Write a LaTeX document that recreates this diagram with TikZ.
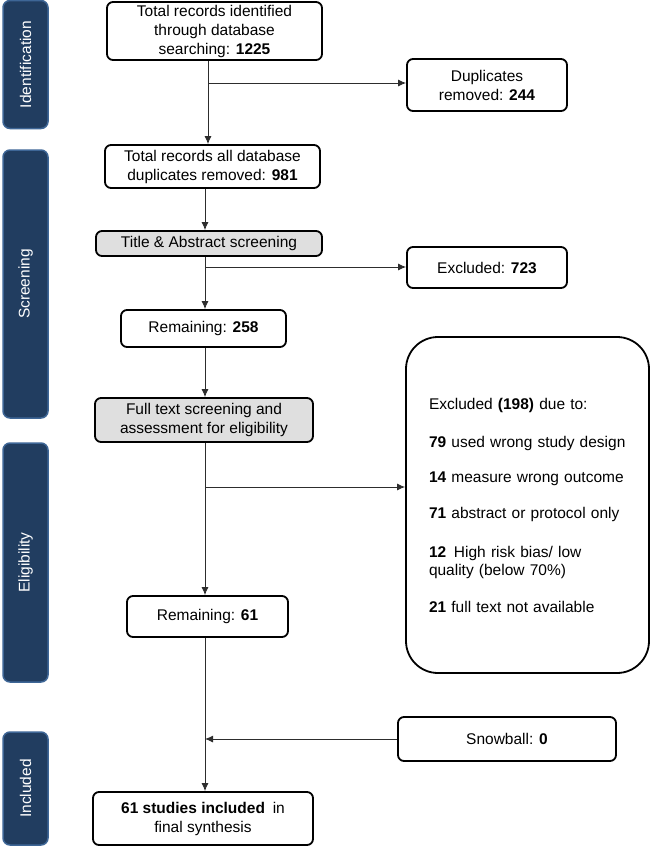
\documentclass[tikz,border=0pt]{standalone}
\usepackage{fontspec}
\setmainfont{Liberation Sans}
\usetikzlibrary{arrows.meta}

\definecolor{phasefill}{RGB}{33,61,96}
\definecolor{phaseline}{RGB}{62,102,150}
\definecolor{flowline}{RGB}{45,45,45}

\tikzset{
	stepbox/.style={draw=black, line width=1.8pt, rounded corners=6pt, fill=white, align=center, inner sep=0pt},
	greybox/.style={stepbox, fill=gray!25},
	phase/.style={draw=phaseline, line width=1.5pt, fill=phasefill, rounded corners=7pt, text=white, rotate=90, minimum height=45pt, inner sep=0pt},
	flow/.style={draw=flowline, line width=0.9pt, -{Latex[length=8pt,width=7pt]}},
	link/.style={draw=flowline, line width=0.9pt}
}

\begin{document}
\begin{tikzpicture}[x=1pt, y=-1pt, font=\fontsize{15.5}{19}\selectfont]

	\useasboundingbox (0,0) rectangle (650,847);

\foreach \nm/\cy/\len in {Identification/64.5/128, Screening/284/268, Eligibility/562.5/239, Included/788.5/113}
{
	\node[phase, minimum width=\len pt] (ph\nm) at (25.5,\cy) {\nm};
}

	\node[stepbox, minimum width=215pt, minimum height=58pt] (found) at (214.5,31) {Total records identified\\through database\\searching: \textbf{1225}};
	\node[stepbox, minimum width=160pt, minimum height=52pt] (dupl) at (487,85) {Duplicates\\removed: \textbf{244}};
	\node[stepbox, minimum width=215pt, minimum height=43pt] (dedup) at (212.5,166.5) {Total records all database\\duplicates removed: \textbf{981}};
	\node[greybox, minimum width=226pt, minimum height=25pt] (title) at (209,243.5) {Title \& Abstract screening};
	\node[stepbox, minimum width=160pt, minimum height=41pt] (excl) at (487,267.5) {Excluded: \textbf{723}};
	\node[stepbox, minimum width=165pt, minimum height=37pt] (remA) at (203.5,328.5) {Remaining: \textbf{258}};
	\node[greybox, minimum width=218pt, minimum height=44pt] (full) at (204,420) {Full text screening and\\assessment for eligibility};
	\node[stepbox, rounded corners=32pt, minimum width=243pt, minimum height=336pt, text width=197pt, align=left] (why) at (527.5,505)
		{Excluded \textbf{(198)} due to:\\[19pt]
		\textbf{79} used wrong study design\\[16pt]
		\textbf{14} measure wrong outcome\\[17pt]
		\textbf{71} abstract or protocol only\\[20pt]
		\textbf{12}\enspace High risk bias/ low\\[-1pt]
		quality (below 70\%)\\[18pt]
		\textbf{21} full text not available};
	\node[stepbox, minimum width=161pt, minimum height=41pt] (remB) at (207.5,616.5) {Remaining: \textbf{61}};
	\node[stepbox, minimum width=218pt, minimum height=44pt] (snow) at (507,739) {Snowball: \textbf{0}};
	\node[stepbox, minimum width=220pt, minimum height=53pt] (incl) at (203,818.5) {\textbf{61 studies included}\enspace in\\final synthesis};

	\coordinate (jA) at (208,83);
	\coordinate (jB) at (205,267);
	\coordinate (jC) at (205,487);
	\coordinate (jD) at (205,739);

	\draw[flow] (found.south -| jA) -- (dedup.north -| jA);
	\draw[flow] (jA) -- (jA -| dupl.west);
	\draw[flow] (dedup.south -| jB) -- (title.north -| jB);
	\draw[flow] (title.south -| jB) -- (remA.north -| jB);
	\draw[flow] (jB) -- (jB -| excl.west);
	\draw[flow] (remA.south -| jB) -- (full.north -| jB);
	\draw[flow] (full.south -| jC) -- (remB.north -| jC);
	\draw[flow] (jC) -- (jC -| why.west);
	\draw[flow] (remB.south -| jD) -- (incl.north -| jD);
	\draw[flow] (snow.west) -- (jD);

\end{tikzpicture}
\end{document}
